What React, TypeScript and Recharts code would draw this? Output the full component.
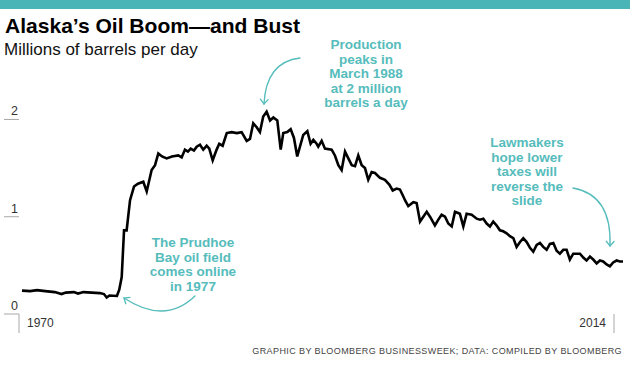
import { LineChart, Line, XAxis, YAxis } from 'recharts';

// Alaska crude output, millions of barrels per day
const years = [
  1970.0, 1970.6, 1971.1, 1971.7, 1972.4, 1972.9, 1973.2, 1973.8, 1974.1, 1974.5,
  1975.1, 1975.7, 1976.0, 1976.2, 1976.4, 1976.95, 1977.12, 1977.3, 1977.47, 1977.66,
  1977.91, 1978.2, 1978.49, 1978.88, 1979.13, 1979.49, 1979.74, 1979.98, 1980.25, 1980.59,
  1980.98, 1981.44, 1981.69, 1981.93, 1982.15, 1982.35, 1982.59, 1982.79,
  1983.03, 1983.27, 1983.52, 1983.71, 1983.96, 1984.25, 1984.44, 1984.69, 1984.99, 1985.35,
  1985.72, 1986.08, 1986.45, 1986.69, 1986.93, 1987.18, 1987.42, 1987.66, 1987.91, 1988.16,
  1988.4, 1988.69, 1988.94, 1989.13, 1989.42, 1989.67, 1989.91, 1990.15, 1990.35, 1990.59,
  1990.89, 1991.13, 1991.33, 1991.57, 1991.69, 1991.94, 1992.18, 1992.67, 1992.91, 1993.16,
  1993.4, 1993.65, 1993.89, 1994.14, 1994.38, 1994.62, 1994.87, 1995.11, 1995.35, 1995.6,
  1995.84, 1996.21, 1996.57, 1996.89, 1997.14, 1997.43, 1997.67, 1997.91,
  1998.04, 1998.28, 1998.65, 1998.89, 1999.14, 1999.38, 1999.63, 1999.87, 2000.23, 2000.48,
  2000.72, 2000.97, 2001.21, 2001.46, 2001.7, 2002.06, 2002.31, 2002.55, 2002.92, 2003.29,
  2003.53, 2003.77, 2004.02, 2004.26, 2004.5, 2004.75, 2004.99, 2005.23, 2005.48, 2005.72,
  2005.97, 2006.21, 2006.46, 2006.7, 2006.95, 2007.19, 2007.43, 2007.68, 2007.92, 2008.16,
  2008.41, 2008.65, 2008.9, 2009.14, 2009.38, 2009.63, 2009.87, 2010.11, 2010.36, 2010.6,
  2010.85, 2011.09, 2011.33, 2011.58, 2011.82, 2012.07, 2012.31, 2012.55, 2012.8, 2013.04,
  2013.28, 2013.53, 2013.77, 2014.0,
];

const production = [
  0.24, 0.235, 0.245, 0.235, 0.225, 0.205, 0.22, 0.225, 0.21, 0.225,
  0.22, 0.215, 0.205, 0.17, 0.19, 0.185, 0.25, 0.38, 0.86, 0.86,
  1.17, 1.31, 1.34, 1.36, 1.26, 1.48, 1.53, 1.65, 1.62, 1.6,
  1.62, 1.63, 1.61, 1.69, 1.67, 1.7, 1.68, 1.72,
  1.74, 1.69, 1.73, 1.7, 1.58, 1.69, 1.75, 1.73, 1.86, 1.87,
  1.86, 1.87, 1.78, 1.8, 1.96, 1.92, 1.87, 2.03, 2.08, 1.99,
  2.02, 1.99, 1.69, 1.86, 1.87, 1.9, 1.81, 1.62, 1.72, 1.84,
  1.88, 1.75, 1.79, 1.75, 1.72, 1.78, 1.7, 1.69, 1.63, 1.53,
  1.48, 1.67, 1.6, 1.53, 1.52, 1.63, 1.53, 1.5, 1.38, 1.46,
  1.45, 1.4, 1.38, 1.33, 1.27, 1.29, 1.28, 1.21,
  1.17, 1.11, 1.15, 1.14, 0.95, 1.0, 1.05, 1.0, 0.91, 0.97,
  1.02, 1.0, 0.93, 0.9, 1.05, 1.03, 0.9, 1.03, 1.02, 0.98,
  0.97, 0.98, 0.93, 0.9, 0.95, 0.91, 0.86, 0.85, 0.83, 0.8,
  0.78, 0.69, 0.74, 0.78, 0.74, 0.68, 0.64, 0.71, 0.73, 0.69,
  0.66, 0.72, 0.73, 0.65, 0.62, 0.66, 0.66, 0.56, 0.62, 0.62,
  0.62, 0.58, 0.55, 0.59, 0.56, 0.52, 0.55, 0.54, 0.51, 0.49,
  0.53, 0.55, 0.54, 0.54,
];

const yTicks = [0, 1, 2];
const xTicks = [1970, 2014];

const peakNote = ['Production', 'peaks in', 'March 1988', 'at 2 million', 'barrels a day'];
const taxNote = ['Lawmakers', 'hope lower', 'taxes will', 'reverse the', 'slide'];
const prudhoeNote = ['The Prudhoe', 'Bay oil field', 'comes online', 'in 1977'];

const data = years.map((year, i) => ({ year, value: production[i] }));

const TEAL = '#56bcbc';
const FONT = '"Liberation Sans", Arial, sans-serif';

const YTick = (props: any) => {
  const { y, payload } = props;
  return (
    <g>
      <line x1={4} x2={19} y1={y} y2={y} stroke="#a8a8a8" strokeWidth={1} />
      <text x={18} y={y - 4} textAnchor="end" fontSize={12.5} fill="#333" fontFamily={FONT}>
        {payload.value}
      </text>
    </g>
  );
};

const XTick = (props: any) => {
  const { x, payload } = props;
  const first = payload.value === xTicks[0];
  const lineX = first ? x - 3 : x;
  return (
    <g>
      <line x1={lineX} x2={lineX} y1={314} y2={333} stroke="#a8a8a8" strokeWidth={1} />
      <text
        x={first ? x + 5 : x - 8}
        y={327}
        textAnchor={first ? 'start' : 'end'}
        fontSize={12}
        fill="#333"
        fontFamily={FONT}
      >
        {payload.value}
      </text>
    </g>
  );
};

function Note({ lines, cx, y0 }: { lines: string[]; cx: number; y0: number }) {
  return (
    <text fontFamily={FONT} fontWeight={700} fontSize={13.5} fill={TEAL} textAnchor="middle">
      {lines.map((l, i) => (
        <tspan key={l} x={cx} y={y0 + i * 14.5}>
          {l}
        </tspan>
      ))}
    </text>
  );
}

// curved arrow: quadratic from start via ctrl to tip, with a small head
function Arrow({ sx, sy, cx, cy, tx, ty }: { sx: number; sy: number; cx: number; cy: number; tx: number; ty: number }) {
  const dx = tx - cx;
  const dy = ty - cy;
  const len = Math.hypot(dx, dy);
  const ux = dx / len;
  const uy = dy / len;
  const a = (40 * Math.PI) / 180;
  const w1x = tx - 6 * (ux * Math.cos(a) - uy * Math.sin(a));
  const w1y = ty - 6 * (ux * Math.sin(a) + uy * Math.cos(a));
  const w2x = tx - 6 * (ux * Math.cos(a) + uy * Math.sin(a));
  const w2y = ty - 6 * (-ux * Math.sin(a) + uy * Math.cos(a));
  return (
    <g fill="none" stroke={TEAL} strokeWidth={1.3} strokeLinecap="round">
      <path d={`M${sx},${sy} Q${cx},${cy} ${tx},${ty}`} />
      <path d={`M${w1x},${w1y} L${tx},${ty} L${w2x},${w2y}`} />
    </g>
  );
}

export default function App() {
  return (
    <div style={{ position: 'absolute', left: 0, top: 0, width: 630, height: 369, background: '#fff' }}>
      <LineChart
        width={630}
        height={369}
        data={data}
        margin={{ top: 100, right: 7, bottom: 0, left: 0 }}
        style={{ position: 'absolute', left: 0, top: 0 }}
      >
        <XAxis
          dataKey="year"
          type="number"
          domain={[1970, 2014]}
          ticks={xTicks}
          height={55}
          axisLine={false}
          tickLine={false}
          tick={<XTick />}
        />
        <YAxis
          domain={[0, 2.2]}
          ticks={yTicks}
          width={22}
          axisLine={false}
          tickLine={false}
          tick={<YTick />}
        />
        <Line
          dataKey="value"
          stroke="#000"
          strokeWidth={2.6}
          strokeLinejoin="miter"
          dot={false}
          isAnimationActive={false}
        />
      </LineChart>
      <svg
        width={630}
        height={369}
        style={{ position: 'absolute', left: 0, top: 0, pointerEvents: 'none' }}
      >
        <rect x={0} y={0} width={630} height={9} fill="#4ab5b7" />
        <text x={5} y={33} fontFamily={FONT} fontWeight={700} fontSize={20.5} fill="#000" textLength={295} lengthAdjust="spacingAndGlyphs">
          Alaska’s Oil Boom—and Bust
        </text>
        <text x={4} y={55} fontFamily={FONT} fontSize={17} fill="#111">
          Millions of barrels per day
        </text>
        <Note lines={peakNote} cx={366} y0={49} />
        <Note lines={taxNote} cx={527} y0={147} />
        <Note lines={prudhoeNote} cx={193} y0={247} />
        <Arrow sx={300} sy={58} cx={266} cy={62} tx={264} ty={104} />
        <Arrow sx={573} sy={188} cx={612} cy={195} tx={610} ty={246} />
        <Arrow sx={195} sy={296} cx={165} cy={325} tx={124} ty={298} />
        <text
          x={622}
          y={354}
          textAnchor="end"
          fontFamily={FONT}
          fontSize={9}
          fill="#444"
          letterSpacing={0.4}
        >
          GRAPHIC BY BLOOMBERG BUSINESSWEEK; DATA: COMPILED BY BLOOMBERG
        </text>
      </svg>
    </div>
  );
}
